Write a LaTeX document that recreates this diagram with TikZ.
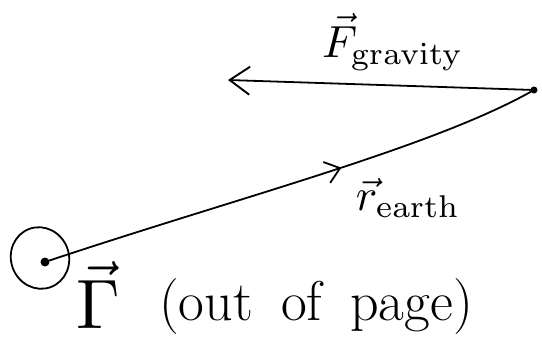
\documentclass[tikz,border=0pt]{standalone}
\usepackage{graphicx}
\usetikzlibrary{arrows.meta,decorations.markings,shapes.geometric}
\begin{document}
\begin{tikzpicture}[x=1pt,y=-1pt,
  ink/.style={line width=1.8pt,line cap=round,line join=round},
  planet/.style={circle,fill=black,inner sep=0pt},
  barb/.style={-{Straight Barb[length=20pt,width=28pt,line width=1.9pt]}},
  midarrow/.style={postaction={decorate},decoration={markings,
    mark=at position 0.6 with {\arrow{Straight Barb[length=14pt,width=22pt,line width=1.8pt]}}}},
  lbl/.style={inner sep=0pt}]
\useasboundingbox (0,0) rectangle (542,343);
\node[planet,minimum size=9pt] (sun) at (45,262) {};
\node[planet,minimum size=7pt] (earth) at (534,90) {};
\node[ellipse,draw,ink,minimum width=58pt,minimum height=62pt,rotate=20] (orbit) at (40,258) {};
\coordinate (fend) at (228,80);
\draw[ink,midarrow] (sun) .. controls (240,197) and (430,148) .. (earth);
\draw[ink,barb] (earth) -- (fend);
\node[lbl] (flbl) at (393,42) {\scalebox{4.5}{$\vec{F}_{\mathrm{gravity}}$}};
\node[lbl] (rlbl) at (408,198) {\scalebox{4.5}{$\vec{r}_{\mathrm{earth}}$}};
\node[lbl] (glbl) at (98,295) {\scalebox{7}{$\vec{\Gamma}$}};
\node[lbl] (olbl) at (316,307) {\fontsize{56}{60}\selectfont (out\hspace{0.5em}of\hspace{0.5em}page)};
\end{tikzpicture}
\end{document}
